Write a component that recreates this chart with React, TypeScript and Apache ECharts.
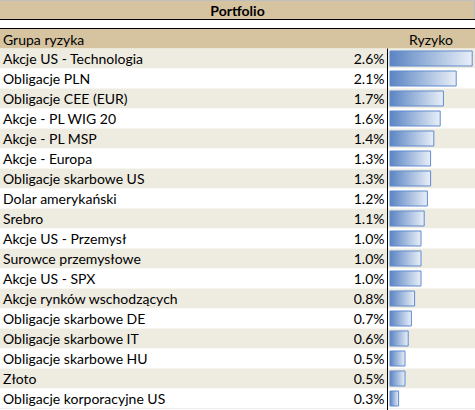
import { useEffect, useRef } from 'react';
import * as echarts from 'echarts';

const categories = [
  'Akcje US - Technologia',
  'Obligacje PLN',
  'Obligacje CEE (EUR)',
  'Akcje - PL WIG 20',
  'Akcje - PL MSP',
  'Akcje - Europa',
  'Obligacje skarbowe US',
  'Dolar amerykański',
  'Srebro',
  'Akcje US - Przemysł',
  'Surowce przemysłowe',
  'Akcje US - SPX',
  'Akcje rynków wschodzących',
  'Obligacje skarbowe DE',
  'Obligacje skarbowe IT',
  'Obligacje skarbowe HU',
  'Złoto',
  'Obligacje korporacyjne US',
];

const riskValues = [2.6, 2.1, 1.7, 1.6, 1.4, 1.3, 1.3, 1.2, 1.1, 1.0, 1.0, 1.0, 0.8, 0.7, 0.6, 0.5, 0.5, 0.3];

const FONT = 'Lato';
const W = 475;
const ZERO_X = 389.5;
const PX_PER_UNIT = 32;
const ROWS_TOP = 48.5;
const ROW_H = 20;

export default function App() {
  const chartRef = useRef<HTMLDivElement>(null);

  useEffect(() => {
    if (!chartRef.current) return;
    const chart = echarts.init(chartRef.current, null, { renderer: 'svg' });

    const option: echarts.EChartsOption = {
      animation: false,
      backgroundColor: '#ffffff',
      textStyle: { fontFamily: FONT },
      grid: {
        left: 0,
        right: 0,
        top: ROWS_TOP,
        height: ROW_H * categories.length,
      },
      xAxis: {
        type: 'value',
        min: -ZERO_X / PX_PER_UNIT,
        max: (W - ZERO_X) / PX_PER_UNIT,
        show: false,
      },
      yAxis: {
        type: 'category',
        inverse: true,
        data: categories,
        axisLine: { show: false },
        axisTick: { show: false },
        axisLabel: {
          inside: true,
          margin: 3,
          color: '#000',
          fontSize: 14,
          fontFamily: FONT,
        },
        splitLine: { show: false },
        splitArea: {
          show: true,
          areaStyle: { color: ['#EEEBE0', '#FFFFFF'] },
        },
      },
      series: [
        {
          type: 'bar',
          data: riskValues,
          barWidth: 16,
          itemStyle: {
            color: new echarts.graphic.LinearGradient(0, 0, 1, 0, [
              { offset: 0, color: '#5A84C2' },
              { offset: 1, color: '#E9EFF8' },
            ]),
            borderColor: '#5F8BD0',
            borderWidth: 1,
          },
          label: {
            show: true,
            position: 'left',
            distance: 5,
            color: '#000',
            fontSize: 14,
            fontFamily: FONT,
            formatter: (p: any) => `${p.value.toFixed(1)}%`,
          },
        },
      ],
      graphic: [
        { type: 'rect', shape: { x: 0, y: 0, width: W, height: 19 }, style: { fill: '#D6C4A0' } },
        { type: 'line', shape: { x1: 0, y1: 0.5, x2: W, y2: 0.5 }, style: { stroke: '#BFBFBF', lineWidth: 1 } },
        { type: 'line', shape: { x1: W - 0.5, y1: 0, x2: W - 0.5, y2: 19 }, style: { stroke: '#BFBFBF', lineWidth: 1 } },
        {
          type: 'text',
          x: W / 2,
          y: 10,
          style: {
            text: 'Portfolio',
            fill: '#000',
            font: `bold 14px ${FONT}`,
            textAlign: 'center',
            textVerticalAlign: 'middle',
          },
        },
        { type: 'line', shape: { x1: 0, y1: 19.5, x2: W, y2: 19.5 }, style: { stroke: '#000', lineWidth: 1 } },
        { type: 'rect', shape: { x: 0, y: 28, width: W, height: ROWS_TOP - 28 }, style: { fill: '#D6C4A0' } },
        { type: 'line', shape: { x1: 0, y1: 28.5, x2: W, y2: 28.5 }, style: { stroke: '#000', lineWidth: 1 } },
        {
          type: 'text',
          x: 3,
          y: 39,
          style: {
            text: 'Grupa ryzyka',
            fill: '#000',
            font: `14px ${FONT}`,
            textAlign: 'left',
            textVerticalAlign: 'middle',
          },
        },
        {
          type: 'text',
          x: 431,
          y: 39,
          style: {
            text: 'Ryzyko',
            fill: '#000',
            font: `14px ${FONT}`,
            textAlign: 'center',
            textVerticalAlign: 'middle',
          },
        },
        {
          type: 'line',
          z: 10,
          shape: { x1: 387.5, y1: ROWS_TOP, x2: 387.5, y2: 410 },
          style: { stroke: '#000', lineWidth: 1 },
        },
        {
          type: 'line',
          shape: { x1: 0, y1: 408.5, x2: W, y2: 408.5 },
          style: { stroke: '#D9D9D9', lineWidth: 1 },
        },
      ],
    };

    chart.setOption(option);
    return () => chart.dispose();
  }, []);

  return (
    <div
      ref={chartRef}
      style={{ position: 'fixed', left: 0, top: 0, width: W, height: 410 }}
    />
  );
}
